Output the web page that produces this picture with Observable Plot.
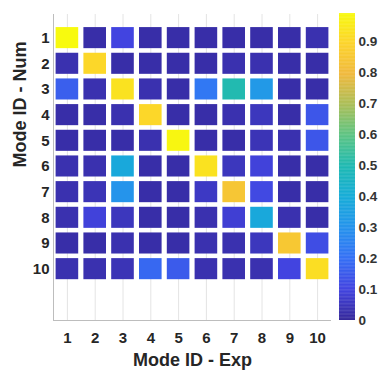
<!DOCTYPE html>
<html><head><meta charset="utf-8">
<script src="https://cdn.jsdelivr.net/npm/d3@7"></script>
<script src="https://cdn.jsdelivr.net/npm/@observablehq/plot@0.6"></script>
<style>
body{margin:0;background:#fff}
#wrap{position:relative;width:385px;height:381px}
#wrap svg{position:absolute;top:0}
</style></head><body><div id="wrap"></div>
<script>
const modeNum = [1,2,3,4,5,6,7,8,9,10];
const modeExp = [1,2,3,4,5,6,7,8,9,10];
const macValues = [
  [0.99,0.02,0.10,0.02,0.02,0.02,0.02,0.02,0.02,0.03],
  [0.03,0.90,0.02,0.02,0.02,0.02,0.03,0.03,0.02,0.02],
  [0.16,0.03,0.93,0.03,0.02,0.22,0.50,0.32,0.02,0.02],
  [0.02,0.02,0.03,0.90,0.02,0.02,0.03,0.05,0.02,0.14],
  [0.02,0.02,0.02,0.03,0.98,0.02,0.02,0.04,0.03,0.14],
  [0.03,0.03,0.38,0.02,0.02,0.93,0.05,0.09,0.02,0.02],
  [0.03,0.04,0.30,0.02,0.02,0.06,0.84,0.11,0.02,0.02],
  [0.03,0.09,0.05,0.02,0.02,0.03,0.08,0.38,0.03,0.02],
  [0.02,0.02,0.03,0.02,0.02,0.03,0.03,0.05,0.85,0.12],
  [0.03,0.03,0.04,0.18,0.15,0.03,0.03,0.03,0.10,0.92]
];
const colorbarTicks = [0,0.1,0.2,0.3,0.4,0.5,0.6,0.7,0.8,0.9];
const colorMax = 0.99;
const xTitle = "Mode ID - Exp";
const yTitle = "Mode ID - Num";
const parula = ["#36299a","#4244e0","#3570f5","#2593ec","#17acd8","#1fb9b2","#5cc484","#aabe58","#f0b93e","#fcd32c","#f8fa0e"];

const cells = modeNum.flatMap((n,i)=>modeExp.map((e,j)=>({num:n, exp:e, mac:macValues[i][j]})));
const colorScale = {type:"linear", domain:[0,colorMax], interpolate: d3.piecewise(d3.interpolateRgb, parula)};
const font = "Liberation Sans, Arial, sans-serif";
const wrap = document.getElementById("wrap");

const main = Plot.plot({
  width: 385, height: 381,
  marginLeft: 53, marginRight: 54, marginTop: 14, marginBottom: 61,
  style: {fontFamily: font, background: "white"},
  x: {type:"linear", domain:[0.5,10.5]},
  y: {type:"linear", domain:[0.08,12], reverse:true},
  color: colorScale,
  marks: [
    Plot.gridX(modeExp, {stroke:"#e4e4e4", strokeOpacity:1}),
    Plot.ruleX([0.5], {stroke:"#bdbdbd"}),
    Plot.ruleY([12], {stroke:"#bdbdbd"}),
    Plot.rect(cells, {
      x1: d=>d.exp-0.5, x2: d=>d.exp+0.5,
      y1: d=>d.num-0.5, y2: d=>d.num+0.5,
      fill: "mac", insetLeft: 2.6, insetRight: 2.6, insetTop: 2.3, insetBottom: 2.3
    }),
    Plot.axisX({ticks: modeExp, tickFormat: d=>String(d), tickSize: 0, tickPadding: 12, fontSize: 15, fontWeight: "bold", fill: "#262626", label: null}),
    Plot.axisY({ticks: modeNum, tickFormat: d=>String(d), tickSize: 0, tickPadding: 4, fontSize: 15, fontWeight: "bold", fill: "#262626", label: null}),
    Plot.text([xTitle], {text: d=>d, frameAnchor: "bottom", dy: 40, lineAnchor: "middle", fontSize: 18, fontWeight: "bold", fill: "#262626"}),
    Plot.text([yTitle], {text: d=>d, frameAnchor: "left", dx: -33, rotate: -90, lineAnchor: "middle", fontSize: 18, fontWeight: "bold", fill: "#262626"})
  ]
});
main.style.left = "0px";
wrap.appendChild(main);

const step = 0.0025;
const ramp = d3.range(0, colorMax, step);
const bar = Plot.plot({
  width: 55, height: 381,
  marginLeft: 9, marginRight: 30, marginTop: 13, marginBottom: 61,
  style: {fontFamily: font, background: "transparent"},
  y: {type:"linear", domain:[0,colorMax]},
  color: colorScale,
  marks: [
    Plot.rect(ramp, {y1: d=>d, y2: d=>Math.min(colorMax, d+step*1.5), fill: d=>d}),
    Plot.axisY({anchor:"right", ticks: colorbarTicks, tickFormat: d=> d===0 ? "0" : d3.format(".1f")(d), tickSize: 0, tickPadding: 3, fontSize: 13.5, fontWeight: "bold", fill: "#333", label: null})
  ]
});
bar.style.left = "330px";
wrap.appendChild(bar);
</script></body></html>
